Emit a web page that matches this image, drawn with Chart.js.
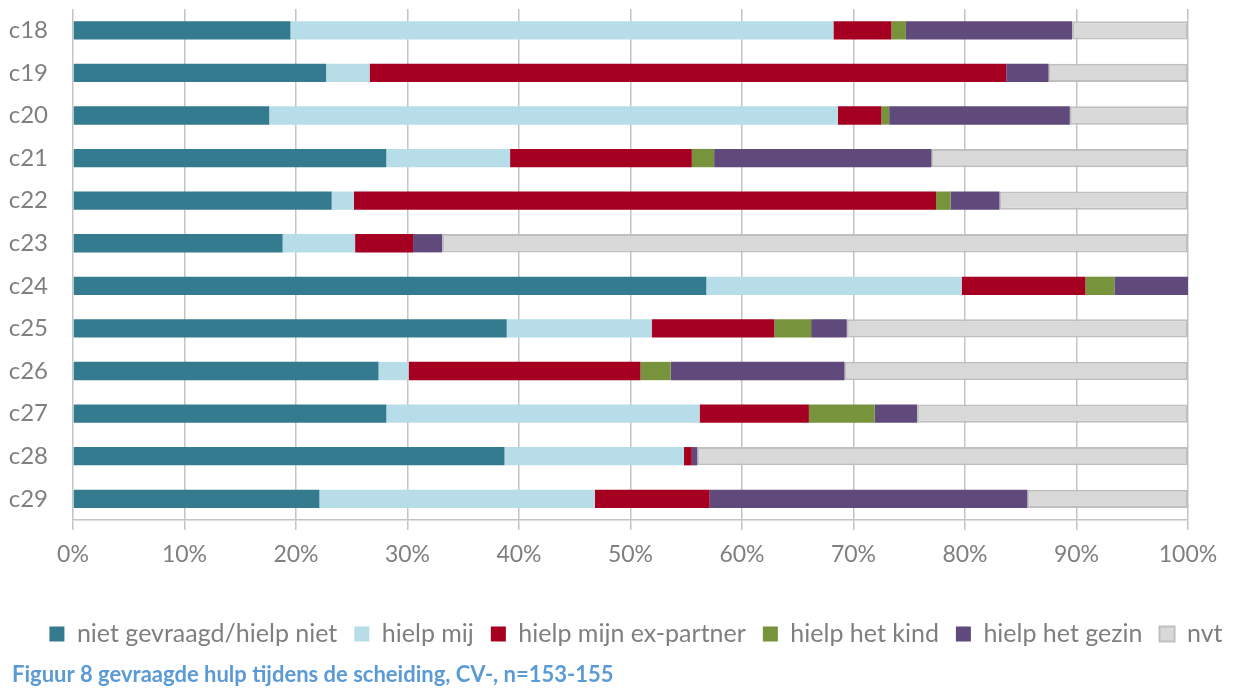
<!DOCTYPE html>
<html>
<head>
<meta charset="utf-8">
<script src="https://cdn.jsdelivr.net/npm/chart.js@4"></script>
<style>
  html, body { margin: 0; padding: 0; background: #fff; }
  #wrap { width: 1240px; height: 688px; }
</style>
</head>
<body>
<div id="wrap"><canvas id="myChart" width="1240" height="688"></canvas></div>
<script>
const categories = ['c18', 'c19', 'c20', 'c21', 'c22', 'c23', 'c24', 'c25', 'c26', 'c27', 'c28', 'c29'];
const niet_gevraagd = [19.5, 22.7, 17.6, 28.1, 23.2, 18.8, 56.8, 38.9, 27.4, 28.1, 38.7, 22.1];
const hielp_mij = [48.7, 3.9, 51.0, 11.1, 2.0, 6.5, 22.9, 13.0, 2.7, 28.1, 16.1, 24.7];
const hielp_ex = [5.2, 57.1, 3.9, 16.3, 52.2, 5.2, 11.1, 11.0, 20.8, 9.8, 0.7, 10.3];
const hielp_kind = [1.3, 0, 0.7, 2.0, 1.3, 0, 2.6, 3.3, 2.7, 5.9, 0, 0];
const hielp_gezin = [14.9, 3.8, 16.2, 19.5, 4.4, 2.6, 6.6, 3.2, 15.6, 3.8, 0.5, 28.5];
const nvt = [10.4, 12.5, 10.6, 23.0, 16.9, 66.9, 0, 30.6, 30.8, 24.3, 44.0, 14.4];
const tick_labels = ['0%', '10%', '20%', '30%', '40%', '50%', '60%', '70%', '80%', '90%', '100%'];

const series = [
    {label: 'niet gevraagd/hielp niet', data: niet_gevraagd, color: '#357B8F'},
    {label: 'hielp mij', data: hielp_mij, color: '#B7DDE8'},
    {label: 'hielp mijn ex-partner', data: hielp_ex, color: '#A50021'},
    {label: 'hielp het kind', data: hielp_kind, color: '#77933C'},
    {label: 'hielp het gezin', data: hielp_gezin, color: '#604A7B'},
    {label: 'nvt', data: nvt, color: '#D9D9D9'},
];

const grey = '#7F7F7F';
const gridColor = '#C4C4C4';

// legend and caption are not centred on the canvas in the original
const nudge = {
    id: 'nudge',
    afterLayout(chart) {
        chart.legend.left += 16;
        chart.legend.right += 16;
        chart.titleBlock.left += 12;
        chart.titleBlock.right += 12;
    }
};

const ctx = document.getElementById('myChart').getContext('2d');
const myChart = new Chart(ctx, {
    type: 'bar',
    data: {
        labels: categories,
        datasets: series.map(s => ({
            label: s.label,
            data: s.data,
            backgroundColor: s.color,
            borderColor: s.label === 'nvt' ? '#BFBFBF' : s.color,
            borderWidth: s.label === 'nvt' ? 2 : 0,
            borderSkipped: false,
            barPercentage: 0.43,
            categoryPercentage: 1,
        })),
    },
    options: {
        indexAxis: 'y',
        responsive: false,
        animation: false,
        layout: {padding: {top: 9, right: 0, bottom: 0, left: 0}},
        scales: {
            x: {
                stacked: true,
                min: 0,
                max: 100,
                afterFit: (scale) => { scale.height = 84.5; scale.paddingRight = 52; },
                grid: {color: gridColor, lineWidth: 1.5, tickLength: 10, tickColor: gridColor},
                border: {color: gridColor, width: 1.5},
                ticks: {
                    stepSize: 10,
                    padding: 11,
                    color: grey,
                    font: {family: 'Lato', size: 23},
                    callback: (v, i) => tick_labels[i],
                },
            },
            y: {
                stacked: true,
                afterFit: (scale) => {
                    scale.width = 73;
                    scale.paddingTop = 0;
                    scale.paddingBottom = 0;
                },
                grid: {display: false, drawTicks: false},
                border: {display: false},
                ticks: {padding: 25, color: grey, font: {family: 'Lato', size: 24}},
            },
        },
        plugins: {
            tooltip: {enabled: false},
            legend: {
                position: 'bottom',
                labels: {
                    boxWidth: 15,
                    boxHeight: 15,
                    padding: 17,
                    color: grey,
                    font: {family: 'Lato', size: 25},
                },
            },
            title: {
                display: true,
                position: 'bottom',
                align: 'start',
                text: 'Figuur 8 gevraagde hulp tijdens de scheiding, CV-, n=153-155',
                color: '#5B9BD5',
                font: {family: 'Lato', size: 22, weight: 'bold'},
                padding: {top: 5, bottom: 0},
            },
        },
    },
    plugins: [nudge],
});
</script>
</body>
</html>
